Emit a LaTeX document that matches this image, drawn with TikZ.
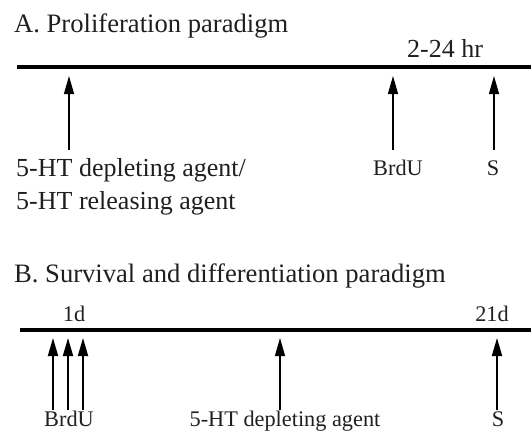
\documentclass[tikz,border=0pt]{standalone}
\usepackage{fontspec}
\setmainfont{Liberation Serif}
\usetikzlibrary{arrows.meta}

\begin{document}
\begin{tikzpicture}[x=1pt,y=-1pt,
    timeline/.style={line width=3.6pt},
    event/.style={-{Triangle[length=18pt,width=10pt]},line width=1.3pt},
    titletext/.style={inner sep=0pt,text=black!88,font=\fontsize{26.6}{34}\selectfont},
    bigtext/.style={inner sep=0pt,text=black!88,font=\fontsize{26}{34}\selectfont},
    smalltext/.style={inner sep=0pt,text=black!88,font=\fontsize{22.3}{26}\selectfont}]
  \useasboundingbox (0,0) rectangle (531,437);

  % A. Proliferation paradigm
  \node[titletext,anchor=base west] (titleA) at (14,32) {A. Proliferation paradigm};
  \coordinate (startA) at (17,67);
  \coordinate (endA) at (531,67);
  \draw[timeline] (startA) -- (endA);
  \node[bigtext,anchor=base] (hrA) at (445,57) {2-24 hr};

  % Arrows of panel A
  \coordinate (drugA) at (69,150);
  \coordinate (drugtipA) at (69,76);
  \coordinate (brduA) at (393,150);
  \coordinate (brdutipA) at (393,76);
  \coordinate (sA) at (494,150);
  \coordinate (stipA) at (494,76);
  \draw[event] (drugA) -- (drugtipA);
  \draw[event] (brduA) -- (brdutipA);
  \draw[event] (sA) -- (stipA);

  % Labels of panel A
  \node[bigtext,anchor=base west] (depletA) at (16,176) {5-HT depleting agent/};
  \node[bigtext,anchor=base west] (releasA) at (16,209) {5-HT releasing agent};
  \node[smalltext,anchor=base] (brdulabA) at (398,175) {BrdU};
  \node[smalltext,anchor=base] (slabA) at (493,175) {S};

  % B. Survival and differentiation paradigm
  \node[titletext,anchor=base west] (titleB) at (14,282) {B. Survival and differentiation paradigm};
  \coordinate (startB) at (20,330);
  \coordinate (endB) at (531,330);
  \draw[timeline] (startB) -- (endB);
  \node[smalltext,anchor=base] (dayone) at (74,321) {1d};
  \node[smalltext,anchor=base] (daylast) at (492,321) {21d};

  % Arrows of panel B
  \foreach \x [count=\i] in {53,68,83}{
    \coordinate (brdu\i) at (\x,410);
    \coordinate (brdutip\i) at (\x,338);
    \draw[event,line width=1.8pt] (brdu\i) -- (brdutip\i);
  }
  \coordinate (drugB) at (280,410);
  \coordinate (drugtipB) at (280,338);
  \coordinate (sB) at (497,410);
  \coordinate (stipB) at (497,338);
  \draw[event] (drugB) -- (drugtipB);
  \draw[event,line width=1.8pt] (sB) -- (stipB);

  % Labels of panel B
  \node[smalltext,anchor=base] (brdulabB) at (69,426) {BrdU};
  \node[smalltext,anchor=base] (depletB) at (285,426) {5-HT depleting agent};
  \node[smalltext,anchor=base] (slabB) at (498,426) {S};
\end{tikzpicture}
\end{document}
